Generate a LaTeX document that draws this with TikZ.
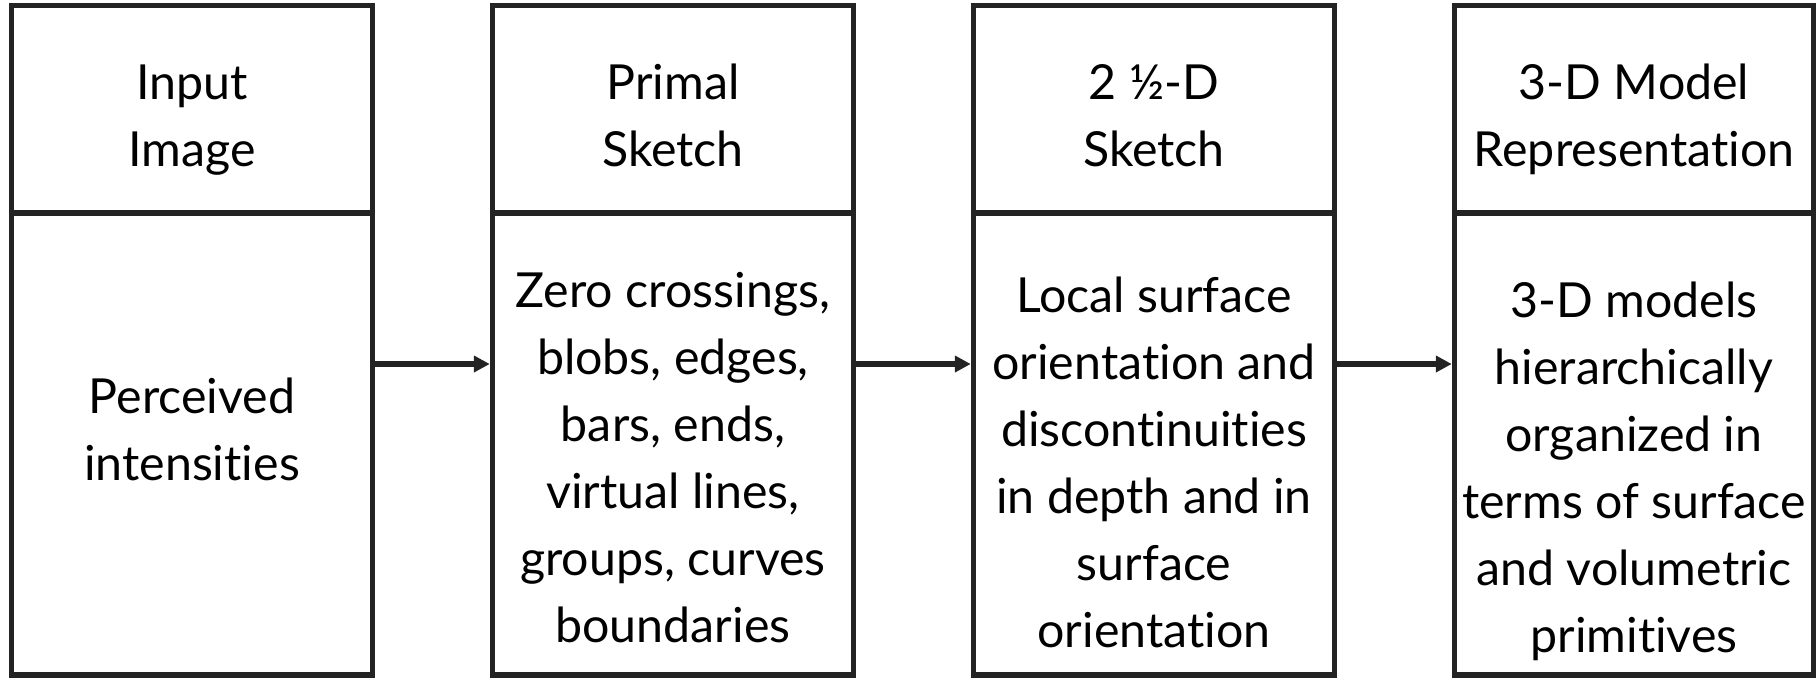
\documentclass[tikz,border=0pt]{standalone}
\usepackage{fontspec}
\setmainfont{Lato}[Ligatures=CommonOff]
\usetikzlibrary{arrows.meta}
\definecolor{ink}{RGB}{35,35,35}
\begin{document}
\begin{tikzpicture}[x=1pt,y=-1pt,
  cell/.style={draw=ink, line width=5.5pt, rectangle, inner sep=0pt, minimum width=361pt},
  headcell/.style={cell, minimum height=207.5pt},
  bodycell/.style={cell, minimum height=462pt},
  txt/.style={font=\fontsize{48.3}{67}\selectfont, align=center, inner sep=0pt, anchor=base, text=black},
  arr/.style={draw=ink, line width=5.5pt, -{Triangle[length=16pt,width=16pt]}}]
\useasboundingbox (0,0) rectangle (1816,678);
% column 1
\node[headcell] (h1) at (192,109.25) {};
\node[bodycell] (b1) at (192,444) {};
% column 2
\node[headcell] (h2) at (673,109.25) {};
\node[bodycell] (b2) at (673,444) {};
% column 3
\node[headcell] (h3) at (1154,109.25) {};
\node[bodycell] (b3) at (1154,444) {};
% column 4
\node[headcell, minimum width=359pt] (h4) at (1634,109.25) {};
\node[bodycell, minimum width=359pt] (b4) at (1634,444) {};
% texts (base anchor = baseline of last line)
\node[txt] (t1) at (192,166) {Input\\Image};
\node[txt] (t2) at (673,166) {Primal\\Sketch};
\node[txt] (t3) at (1154,166) {2 ½-D\\Sketch};
\node[txt] (t4) at (1634,166) {3-D Model\\Representation};
\node[txt] (d1) at (192,480) {Perceived\\intensities};
\node[txt] (d2) at (673,642) {Zero crossings,\\blobs, edges,\\bars, ends,\\virtual lines,\\groups, curves\\boundaries};
\node[txt] (d3) at (1154,647) {Local surface\\orientation and\\discontinuities\\in depth and in\\surface\\orientation};
\node[txt] (d4) at (1634,652) {3-D models\\hierarchically\\organized in\\terms of surface\\and volumetric\\primitives};
% arrows
\draw[arr] ([yshift=80pt]b1.east) -- ([yshift=80pt]b2.west);
\draw[arr] ([yshift=80pt]b2.east) -- ([yshift=80pt]b3.west);
\draw[arr] ([yshift=80pt]b3.east) -- ([yshift=80pt]b4.west);
\end{tikzpicture}
\end{document}
